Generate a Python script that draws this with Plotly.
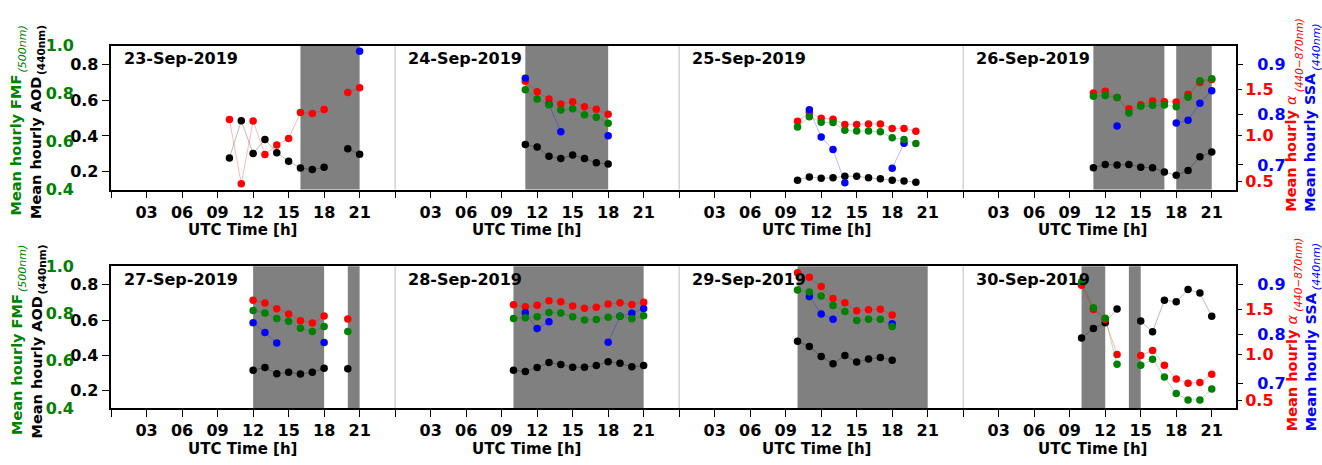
import plotly.graph_objects as go

# ---------------- data ----------------
DATES = ["23-Sep-2019", "24-Sep-2019", "25-Sep-2019", "26-Sep-2019",
         "27-Sep-2019", "28-Sep-2019", "29-Sep-2019", "30-Sep-2019"]
FIRST_HOUR = [10, 11, 10, 11, 12, 10, 10, 10]

AOD = [
    [0.277, 0.485, 0.302, 0.381, 0.306, 0.259, 0.221, 0.212, 0.225, None, 0.329, 0.298],
    [0.352, 0.338, 0.286, 0.274, 0.293, 0.274, 0.250, 0.243],
    [0.153, 0.171, 0.164, 0.166, 0.175, 0.175, 0.166, 0.161, 0.153, 0.148, 0.141],
    [0.223, 0.241, 0.238, 0.241, 0.225, 0.223, 0.198, 0.180, 0.207, 0.284, 0.311],
    [0.315, 0.330, 0.295, 0.303, 0.293, 0.303, 0.326, None, 0.323],
    [0.314, 0.308, 0.330, 0.359, 0.347, 0.332, 0.332, 0.341, 0.363, 0.354, 0.334, 0.341],
    [0.480, 0.449, 0.392, 0.352, 0.398, 0.361, 0.378, 0.387, 0.372],
    [0.498, 0.552, 0.585, 0.663, None, 0.594, 0.533, 0.713, 0.704, 0.773, 0.753, 0.621],
]
ALPHA = [
    [1.174, 0.477, 1.159, 0.795, 0.898, 0.968, 1.251, 1.241, 1.283, None, 1.467, 1.520],
    [1.591, 1.477, 1.397, 1.344, 1.368, 1.312, 1.286, 1.233],
    [1.156, 1.248, 1.188, 1.177, 1.121, 1.121, 1.127, 1.127, 1.078, 1.078, 1.047],
    [1.463, 1.481, 1.414, 1.290, 1.336, 1.375, 1.368, 1.365, 1.450, 1.577, 1.609],
    [1.601, 1.570, 1.507, 1.451, 1.375, 1.351, 1.427, None, 1.396],
    [1.552, 1.531, 1.545, 1.597, 1.586, 1.538, 1.514, 1.524, 1.559, 1.573, 1.555, 1.580],
    [1.903, 1.854, 1.753, 1.622, 1.573, 1.486, 1.497, 1.503, 1.4375],
    [1.768, 1.500, 1.389, 1.003, None, 0.993, 1.049, 0.885, 0.733, 0.6875, 0.694, 0.785],
]
FMF = [
    [],
    [0.816, 0.778, 0.754, 0.732, 0.737, 0.712, 0.702, 0.677],
    [0.661, 0.704, 0.681, 0.680, 0.648, 0.644, 0.644, 0.641, 0.616, 0.609, 0.592],
    [0.789, 0.793, 0.784, 0.720, 0.748, 0.752, 0.753, 0.746, 0.785, 0.854, 0.862],
    [0.813, 0.802, 0.779, 0.767, 0.738, 0.724, 0.745, None, 0.724],
    [0.779, 0.782, 0.787, 0.805, 0.802, 0.787, 0.773, 0.775, 0.784, 0.789, 0.778, 0.791],
    [0.900, 0.891, 0.874, 0.834, 0.809, 0.771, 0.776, 0.776, 0.745],
    [0.935, 0.825, 0.780, 0.585, None, 0.581, 0.607, 0.531, 0.461, 0.434, 0.434, 0.480],
]
SSA = [
    [None, None, None, None, None, None, None, None, None, None, None, 0.926],
    [0.8725, None, 0.8206, 0.766, None, None, None, 0.758],
    [None, 0.8096, 0.7558, 0.7308, 0.6648, None, None, None, 0.6937, 0.743, None],
    [None, None, 0.7777, None, None, None, None, 0.7835, 0.789, 0.8225, 0.8475],
    [0.823, 0.8035, 0.782, None, None, None, 0.7834, None, None],
    [None, 0.8432, 0.8113, 0.825, None, None, None, None, 0.784, 0.836, 0.8425, 0.852],
    [None, 0.876, 0.841, 0.830, None, None, None, None, 0.821],
    [],
]
SHADE = [[(16, 21)], [(11, 18)], [], [(11, 17), (18, 21)],
         [(12, 18), (20, 21)], [(10, 21)], [(10, 21)], [(10, 12), (14, 15)]]

TICK_HOURS = list(range(0, 96, 3))
LABEL_HOURS = [h for h in TICK_HOURS if h % 24 != 0]
LABEL_TEXT = ["<b>%02d</b>" % (h % 24) for h in LABEL_HOURS]
AOD_TICKS = [0.2, 0.4, 0.6, 0.8]
FMF_TICKS = [0.4, 0.6, 0.8, 1.0]
ALPHA_TICKS = [0.5, 1.0, 1.5]
SSA_TICKS = [0.7, 0.8, 0.9]

# axis titles: (main text, subscript text, colour)
YTITLES = [
    ("<b>Mean hourly FMF</b>", "<i>(500nm)</i>", "green"),
    ("<b>Mean hourly AOD</b>", "<b>(440nm)</b>", "black"),
    ("<b>Mean hourly </b><i>α</i>", "<i>(440−870nm)</i>", "red"),
    ("<b>Mean hourly SSA</b>", "<i>(440nm)</i>", "blue"),
]

# ---------------- geometry ----------------
W, H = 1322, 465
FONT = "DejaVu Sans"
def pxx(x): return x / W
def pxy(y): return 1 - y / H

XDOM = [pxx(110.5), pxx(1236)]
ROWS = [dict(top=38.3, bot=188.3), dict(top=268.3, bot=416.0)]
XRANGE = [-0.05, 95.05]
# title layout in px: main x centre, subscript x centre, split offset from row centre, sub size
TITLE_POS = [(16.5, 22.5, -46, 11), (36.5, 41.5, -43, 10.5),
             (1291.5, 1298.5, -25, 10.5), (1310.5, 1316.5, -48, 11)]

COLORS = dict(aod="black", alpha="red", ssa="blue", fmf="green")
LINECOL = dict(aod="rgba(0,0,0,0.35)", alpha="rgba(255,0,0,0.35)",
               ssa="rgba(0,0,255,0.35)", fmf="rgba(0,128,0,0.35)")

fig = go.Figure()
layout = dict(width=W, height=H, margin=dict(l=0, r=0, t=0, b=0),
              paper_bgcolor="white", plot_bgcolor="white", showlegend=False,
              font=dict(family=FONT, color="black"))
shapes, annotations = [], []

def build(row, values):
    xs, ys = [], []
    for k in range(4):
        d = row * 4 + k
        for i, v in enumerate(values[d]):
            xs.append(24 * k + FIRST_HOUR[d] + i)
            ys.append(v)
        xs.append(None)
        ys.append(None)
    return xs, ys

for r, geo in enumerate(ROWS):
    xa = "x" if r == 0 else "x2"
    xkey = "xaxis" if r == 0 else "xaxis2"
    base = 1 + 4 * r
    ids = [base, base + 1, base + 2, base + 3]  # aod, alpha, ssa, fmf
    names = ["y" if i == 1 else "y%d" % i for i in ids]
    keys = ["yaxis" if i == 1 else "yaxis%d" % i for i in ids]
    ydom = [pxy(geo["bot"]), pxy(geo["top"])]

    layout[xkey] = dict(domain=XDOM, range=XRANGE, anchor=names[0],
                        tickvals=LABEL_HOURS, ticktext=LABEL_TEXT,
                        ticks="outside", ticklen=7, tickwidth=1.3, tickcolor="black",
                        minor=dict(tickvals=TICK_HOURS, ticks="outside", ticklen=7,
                                   tickwidth=1.3, tickcolor="black", showgrid=False),
                        showline=True, linecolor="black", linewidth=1.6, mirror=True,
                        showgrid=False, zeroline=False,
                        tickfont=dict(family=FONT, size=16, color="black"))
    layout[keys[0]] = dict(domain=ydom, range=[0.1, 0.905], anchor=xa,
                           tickvals=AOD_TICKS, ticktext=["<b>%.1f</b>" % v for v in AOD_TICKS],
                           ticks="outside", ticklen=7, tickwidth=1.3, tickcolor="black",
                           showline=True, linecolor="black", linewidth=1.6, mirror=True,
                           showgrid=False, zeroline=False,
                           tickfont=dict(family=FONT, size=16, color="black"))
    layout[keys[1]] = dict(range=[0.414, 1.975], overlaying=names[0], anchor=xa, side="right",
                           tickvals=ALPHA_TICKS, ticktext=["<b>%.1f</b>" % v for v in ALPHA_TICKS],
                           ticks="outside", ticklen=5, tickwidth=1.3, tickcolor="black",
                           showline=False, showgrid=False, zeroline=False,
                           tickfont=dict(family=FONT, size=16, color="red"))
    layout[keys[2]] = dict(range=[0.651, 0.937], overlaying=names[0], anchor=xa, side="right",
                           tickvals=SSA_TICKS, ticktext=["<b>%.1f</b>" % v for v in SSA_TICKS],
                           ticks="outside", ticklen=6, tickwidth=1.3, tickcolor="black",
                           ticklabelstandoff=11,
                           showline=False, showgrid=False, zeroline=False,
                           tickfont=dict(family=FONT, size=16, color="blue"))
    layout[keys[3]] = dict(range=[0.4, 1.0], overlaying=names[0], anchor="free",
                           position=pxx(74), side="left",
                           tickvals=FMF_TICKS, ticktext=["<b>%.1f</b>" % v for v in FMF_TICKS],
                           ticks="", showline=False, showgrid=False, zeroline=False,
                           tickfont=dict(family=FONT, size=16, color="green"))

    # shaded periods and day separators
    for k in range(4):
        d = r * 4 + k
        for (a, b) in SHADE[d]:
            shapes.append(dict(type="rect", xref=xa, yref=names[0] + " domain",
                               x0=24 * k + a, x1=24 * k + b, y0=0, y1=1,
                               fillcolor="#808080", line=dict(width=0), layer="below"))
        if k > 0:
            shapes.append(dict(type="line", xref=xa, yref=names[0] + " domain",
                               x0=24 * k, x1=24 * k, y0=0, y1=1,
                               line=dict(color="#d3d3d3", width=1.5), layer="below"))
        annotations.append(dict(text="<b>%s</b>" % DATES[d], xref=xa, yref="paper",
                                x=24 * k + 0.95, y=pxy(geo["top"] + 13.5),
                                xanchor="left", yanchor="middle", showarrow=False,
                                font=dict(family=FONT, size=16, color="black")))
    xlabel_hours = [11.1, 35.1, 59.6, 82.9]
    for h in xlabel_hours:
        annotations.append(dict(text="<b>UTC Time [h]</b>", xref=xa, yref="paper",
                                x=h, y=pxy(geo["bot"] + 42.5), xanchor="center", yanchor="middle",
                                showarrow=False, font=dict(family=FONT, size=15, color="black")))

    ymid = (geo["top"] + geo["bot"]) / 2
    for (main, sub, col), (xm, xs_, split, ssize) in zip(YTITLES, TITLE_POS):
        annotations.append(dict(text=main, xref="paper", yref="paper", x=pxx(xm),
                                y=pxy(ymid + split), xanchor="center", yanchor="top",
                                textangle=-90, showarrow=False, borderpad=0,
                                font=dict(family=FONT, size=14.5, color=col)))
        annotations.append(dict(text=sub, xref="paper", yref="paper", x=pxx(xs_),
                                y=pxy(ymid + split), xanchor="center", yanchor="bottom",
                                textangle=-90, showarrow=False, borderpad=0,
                                font=dict(family=FONT, size=ssize, color=col)))

    for var, values, yn in [("aod", AOD, names[0]), ("alpha", ALPHA, names[1]),
                            ("ssa", SSA, names[2]), ("fmf", FMF, names[3])]:
        xs, ys = build(r, values)
        fig.add_trace(go.Scatter(x=xs, y=ys, xaxis=xa, yaxis=yn, mode="lines+markers",
                                 marker=dict(color=COLORS[var], size=7.5),
                                 line=dict(color=LINECOL[var], width=0.8),
                                 connectgaps=False, hoverinfo="skip", showlegend=False))

layout["shapes"] = shapes
layout["annotations"] = annotations
fig.update_layout(**layout)
fig.write_html("out.html", config={"displayModeBar": False},
               post_script="document.body.style.margin='0';document.body.style.overflow='hidden';")
